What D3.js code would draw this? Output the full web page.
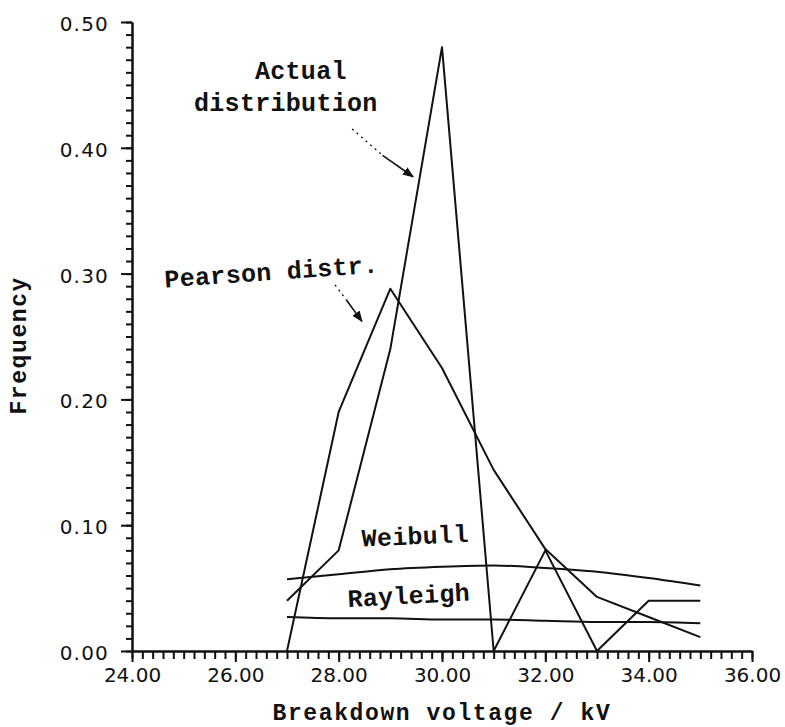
<!DOCTYPE html>
<html>
<head>
<meta charset="utf-8">
<script src="https://cdn.jsdelivr.net/npm/d3@7"></script>
<style>
  html, body { margin: 0; padding: 0; background: #fff; }
  svg { display: block; }
  .tw { font-family: "Liberation Mono", "Courier New", monospace; font-weight: bold; fill: #111; }
  .tick text { font-family: "DejaVu Sans", sans-serif; fill: #111; }
</style>
</head>
<body>
<svg id="chart" width="785" height="727"></svg>
<script>
// ---- data ----
const voltage  = [27, 28, 29, 30, 31, 32, 33, 34, 35];
const actual   = [0.04, 0.08, 0.24, 0.48, 0.00, 0.08, 0.00, 0.04, 0.04];
const pearson  = [0.00, 0.19, 0.288, 0.225, 0.144, 0.081, 0.043, 0.027, 0.011];
const weibull  = [0.057, 0.061, 0.065, 0.067, 0.068, 0.066, 0.063, 0.058, 0.052];
const rayleigh = [0.027, 0.026, 0.026, 0.025, 0.025, 0.024, 0.023, 0.023, 0.022];
const xTickLabels = ["24.00", "26.00", "28.00", "30.00", "32.00", "34.00", "36.00"];
const yTickLabels = ["0.00", "0.10", "0.20", "0.30", "0.40", "0.50"];

// ---- layout ----
const svg = d3.select("#chart");
const x = d3.scaleLinear().domain([24, 36]).range([132, 752]);
const y = d3.scaleLinear().domain([0, 0.5]).range([651, 22]);

const xMinor = d3.range(0, 61).map(i => +(24 + i * 0.2).toFixed(2));
const yMinor = d3.range(0, 51).map(i => +(i * 0.01).toFixed(3));
const xMajor = xTickLabels.map(Number);
const yMajor = yTickLabels.map(Number);

function style(g) {
  g.selectAll("path, line").attr("stroke", "#111").attr("stroke-width", 2);
}

// X axis
svg.append("g").attr("transform", `translate(0,${y(0)})`)
  .call(d3.axisBottom(x).tickValues(xMinor).tickSize(8).tickSizeOuter(0).tickFormat(""))
  .call(style);
const gx = svg.append("g").attr("transform", `translate(0,${y(0)})`)
  .call(d3.axisBottom(x).tickValues(xMajor).tickSize(11).tickSizeOuter(0).tickPadding(6)
    .tickFormat((d, i) => xTickLabels[i]))
  .call(style);
gx.selectAll(".tick text").attr("font-size", 20);

// Y axis
svg.append("g").attr("transform", `translate(${x(24)},0)`)
  .call(d3.axisLeft(y).tickValues(yMinor).tickSize(6).tickSizeOuter(0).tickFormat(""))
  .call(style);
const gy = svg.append("g").attr("transform", `translate(${x(24)},0)`)
  .call(d3.axisLeft(y).tickValues(yMajor).tickSize(11).tickSizeOuter(0).tickPadding(12)
    .tickFormat((d, i) => yTickLabels[i]))
  .call(style);
gy.selectAll(".tick text").attr("font-size", 20).attr("letter-spacing", 1.2).attr("dy", "0.42em");

// lines
const line = d3.line().x((d, i) => x(voltage[i])).y(d => y(d));
const smooth = d3.line().x((d, i) => x(voltage[i])).y(d => y(d)).curve(d3.curveMonotoneX);
[[actual, line], [pearson, line], [weibull, smooth], [rayleigh, smooth]].forEach(([s, gen]) => {
  svg.append("path").datum(s).attr("d", gen)
    .attr("fill", "none").attr("stroke", "#111").attr("stroke-width", 2)
    .attr("stroke-linejoin", "round");
});

// axis titles
svg.append("text").attr("class", "tw")
  .attr("x", (x(24) + x(36)) / 2) .attr("y", 720)
  .attr("text-anchor", "middle").attr("font-size", 23).attr("letter-spacing", 1.6)
  .text("Breakdown voltage / kV");
svg.append("text").attr("class", "tw")
  .attr("transform", `translate(26,${y(0.243)}) rotate(-90)`)
  .attr("text-anchor", "middle").attr("font-size", 23).attr("letter-spacing", 1.6)
  .text("Frequency");

// annotations (positioned in data units)
const notes = [
  { t: "Actual", vx: 26.38, vy: 0.455, rot: 0 },
  { t: "distribution", vx: 25.2, vy: 0.429, rot: 0 },
  { t: "Pearson distr.", vx: 24.64, vy: 0.289, rot: -4 },
  { t: "Weibull", vx: 28.45, vy: 0.083, rot: -2.5 },
  { t: "Rayleigh", vx: 28.18, vy: 0.035, rot: -3 }
];
notes.forEach(n => {
  svg.append("text").attr("class", "tw")
    .attr("transform", `translate(${x(n.vx)},${y(n.vy)}) rotate(${n.rot})`)
    .attr("font-size", 25).attr("letter-spacing", 0.3)
    .text(n.t);
});

// arrows
svg.append("defs").append("marker")
  .attr("id", "ah").attr("viewBox", "0 0 10 10").attr("refX", 9).attr("refY", 5)
  .attr("markerWidth", 7).attr("markerHeight", 7).attr("orient", "auto")
  .append("path").attr("d", "M0,1 L10,5 L0,9 Z").attr("fill", "#111");
const arrows = [
  { a: [28.26, 0.415], m: [28.85, 0.394], b: [29.44, 0.377] },
  { a: [27.93, 0.291], m: [28.15, 0.279], b: [28.45, 0.262] }
];
arrows.forEach(ar => {
  svg.append("line").attr("x1", x(ar.a[0])).attr("y1", y(ar.a[1]))
    .attr("x2", x(ar.m[0])).attr("y2", y(ar.m[1]))
    .attr("stroke", "#111").attr("stroke-width", 1.3).attr("stroke-dasharray", "2,4");
  svg.append("line").attr("x1", x(ar.m[0])).attr("y1", y(ar.m[1]))
    .attr("x2", x(ar.b[0])).attr("y2", y(ar.b[1]))
    .attr("stroke", "#111").attr("stroke-width", 1.6).attr("marker-end", "url(#ah)");
});
</script>
</body>
</html>
